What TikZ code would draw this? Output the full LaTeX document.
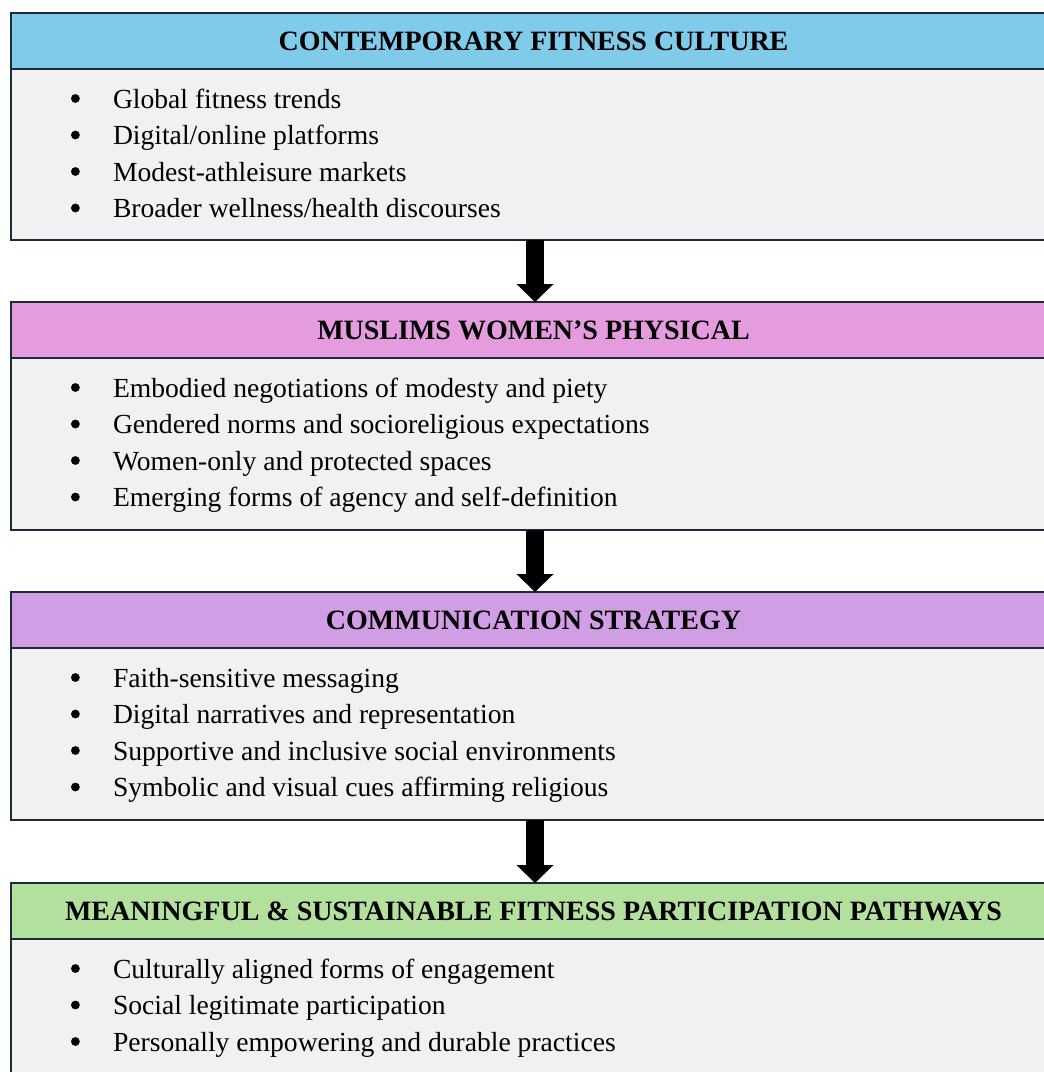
\documentclass[tikz,border=0pt]{standalone}
\usepackage{fontspec}
\setmainfont{Liberation Serif}
\usetikzlibrary{arrows.meta}

\definecolor{edge}{HTML}{1C2B3A}
\definecolor{bodyfill}{HTML}{F1F1F1}
\definecolor{hblue}{HTML}{80CAEA}
\definecolor{hpink}{HTML}{E49CDE}
\definecolor{hviolet}{HTML}{D19DE4}
\definecolor{hgreen}{HTML}{B3E09D}

% round bullet followed by the item text
\newcommand{\bulletdot}{\tikz[baseline=0pt]\fill[black] (0pt,9.5pt) circle[radius=4.4pt];}
\newcommand{\itemline}[1]{\makebox[42pt][l]{\bulletdot}#1}

\tikzset{
  panel/.style={draw=edge, line width=2.2pt, rectangle, minimum width=1045pt,
                inner sep=0pt, outer sep=0pt},
  headbox/.style={panel, minimum height=56pt, font=\fontsize{28}{33}\selectfont\bfseries,
                  text height=18.5pt, text depth=0pt},
  bodybox/.style={panel, fill=bodyfill},
  itemlist/.style={anchor=base west, inner sep=0pt, outer sep=0pt,
                   font=\fontsize{27.6}{36.5}\selectfont},
  flow/.style={line width=18pt, draw=black,
               -{Triangle[width=36pt,length=18pt]}}
}

\begin{document}
\begin{tikzpicture}[x=1pt,y=-1pt]
\clip (0,0) rectangle (1044,1072);
\fill[white] (0,0) rectangle (1044,1072);

% Stage 1
\node[bodybox, minimum height=171pt] (b1) at (533.5,154.5) {};
\node[headbox, fill=hblue] (h1) at (533.5,41) {CONTEMPORARY FITNESS CULTURE};
\node[itemlist] (l1) at ([xshift=60pt,yshift=-39pt]b1.north west) {%
  \begin{tabular}[t]{@{}l@{}}
  \itemline{Global fitness trends}\\
  \itemline{Digital/online platforms}\\
  \itemline{Modest-athleisure markets}\\
  \itemline{Broader wellness/health discourses}
  \end{tabular}};

% Stage 2
\node[bodybox, minimum height=172pt] (b2) at (533.5,444) {};
\node[headbox, fill=hpink] (h2) at (533.5,330) {MUSLIMS WOMEN’S PHYSICAL};
\node[itemlist] (l2) at ([xshift=60pt,yshift=-39pt]b2.north west) {%
  \begin{tabular}[t]{@{}l@{}}
  \itemline{Embodied negotiations of modesty and piety}\\
  \itemline{Gendered norms and socioreligious expectations}\\
  \itemline{Women-only and protected spaces}\\
  \itemline{Emerging forms of agency and self-definition}
  \end{tabular}};

% Stage 3
\node[bodybox, minimum height=172pt] (b3) at (533.5,734) {};
\node[headbox, fill=hviolet] (h3) at (533.5,620) {COMMUNICATION STRATEGY};
\node[itemlist] (l3) at ([xshift=60pt,yshift=-39pt]b3.north west) {%
  \begin{tabular}[t]{@{}l@{}}
  \itemline{Faith-sensitive messaging}\\
  \itemline{Digital narratives and representation}\\
  \itemline{Supportive and inclusive social environments}\\
  \itemline{Symbolic and visual cues affirming religious}
  \end{tabular}};

% Stage 4
\node[bodybox, minimum height=181pt] (b4) at (533.5,1029.5) {};
\node[headbox, fill=hgreen] (h4) at (533.5,911) {MEANINGFUL \& SUSTAINABLE FITNESS PARTICIPATION PATHWAYS};
\node[itemlist] (l4) at ([xshift=60pt,yshift=-39pt]b4.north west) {%
  \begin{tabular}[t]{@{}l@{}}
  \itemline{Culturally aligned forms of engagement}\\
  \itemline{Social legitimate participation}\\
  \itemline{Personally empowering and durable practices}
  \end{tabular}};

% Flow arrows between stages
\draw[flow] ([xshift=1.5pt]b1.south) -- ([xshift=1.5pt]h2.north);
\draw[flow] ([xshift=1.5pt]b2.south) -- ([xshift=1.5pt]h3.north);
\draw[flow] ([xshift=1.5pt]b3.south) -- ([xshift=1.5pt]h4.north);
\end{tikzpicture}
\end{document}
